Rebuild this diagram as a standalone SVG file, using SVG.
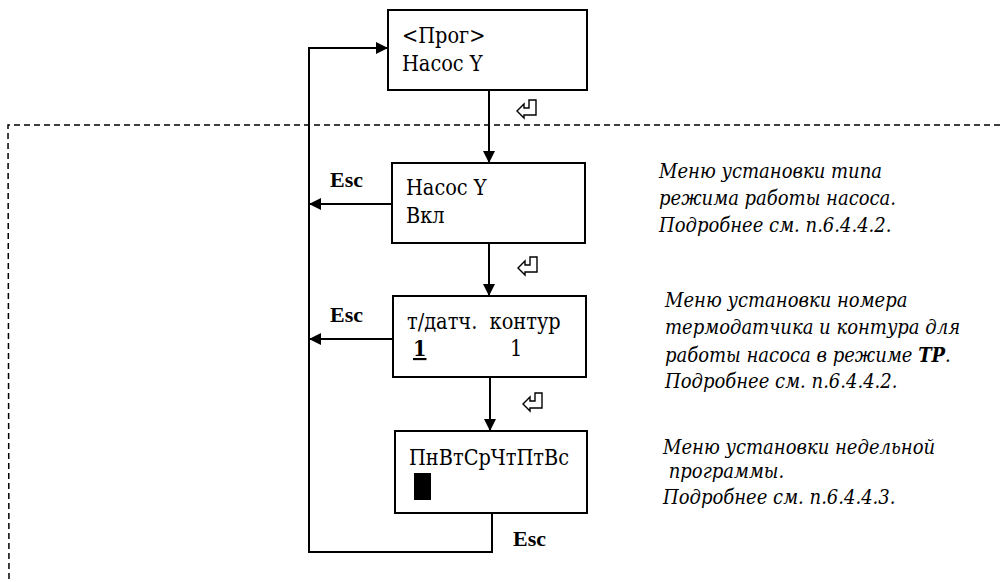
<svg xmlns="http://www.w3.org/2000/svg" width="1000" height="582" viewBox="0 0 1000 582">
<defs>
<marker id="ah" viewBox="0 0 12 12" refX="12" refY="6" markerWidth="12" markerHeight="12" markerUnits="userSpaceOnUse" orient="auto">
<path d="M0,0 L12,6 L0,12 Z" fill="#000"/>
</marker>
<path id="enter" d="M0,13 L7,6 L7,10 L12,10 L12,2 L19,2 L19,17 L7,17 L7,20 Z" fill="#fff" stroke="#000" stroke-width="1.4" stroke-linejoin="miter"/>
</defs>
<style>
.box{fill:#fff;stroke:#000;stroke-width:2}
.t{font-family:"DejaVu Serif Condensed","Liberation Serif",serif;font-size:21.5px;fill:#000}
.esc{font-family:"Liberation Serif","Times New Roman",serif;font-size:22px;font-weight:bold;fill:#000}
.d{font-family:"DejaVu Serif Condensed","Liberation Serif",serif;font-size:20px;font-style:italic;fill:#000}
.ln{fill:none;stroke:#000;stroke-width:2}
.dash{fill:none;stroke:#000;stroke-width:1.5;stroke-dasharray:6,4}
</style>
<rect width="1000" height="582" fill="#fff"/>
<g id="frame">
<path class="dash" d="M1000,125 L8,125 L9,582"/>
</g>
<g id="connectors">
<path class="ln" d="M489,90 L489,163" marker-end="url(#ah)"/>
<path class="ln" d="M489,243 L489,296" marker-end="url(#ah)"/>
<path class="ln" d="M490,377 L490,431" marker-end="url(#ah)"/>
<path class="ln" d="M392,204 L309,204" marker-end="url(#ah)"/>
<path class="ln" d="M393,339 L309,339" marker-end="url(#ah)"/>
<path class="ln" d="M492,513 L492,552 L309,552 L309,48 L388,48" marker-end="url(#ah)"/>
<use href="#enter" x="517" y="98"/>
<use href="#enter" x="518" y="255"/>
<use href="#enter" x="523" y="391"/>
<text class="esc" x="330" y="187">Esc</text>
<text class="esc" x="330" y="322">Esc</text>
<text class="esc" x="513" y="546">Esc</text>
</g>
<g id="node-prog">
<rect class="box" x="388" y="10" width="199" height="80"/>
<text class="t" x="402" y="43">&lt;Прог&gt;</text>
<text class="t" x="402" y="71">Насос Y</text>
</g>
<g id="node-mode">
<rect class="box" x="392" y="163" width="193" height="80"/>
<text class="t" x="406" y="195">Насос Y</text>
<text class="t" x="406" y="223">Вкл</text>
</g>
<g id="node-sensor">
<rect class="box" x="393" y="296" width="193" height="81"/>
<text class="t" x="407" y="329" xml:space="preserve">т/датч.  контур</text>
<text class="t" x="413" y="356" font-weight="bold" text-decoration="underline">1</text>
<text class="t" x="510" y="356">1</text>
</g>
<g id="node-week">
<rect class="box" x="395" y="431" width="192" height="82"/>
<text class="t" x="409" y="465">ПнВтСрЧтПтВс</text>
<rect x="414" y="473" width="17" height="27" fill="#000"/>
</g>
<g id="desc-1">
<text class="d" x="659" y="178">Меню установки типа</text>
<text class="d" x="659" y="205">режима работы насоса.</text>
<text class="d" x="659" y="232">Подробнее см. п.6.4.4.2.</text>
</g>
<g id="desc-2">
<text class="d" x="665" y="307">Меню установки номера</text>
<text class="d" x="665" y="334">термодатчика и контура для</text>
<text class="d" x="665" y="362">работы насоса в режиме <tspan font-weight="bold">ТР</tspan>.</text>
<text class="d" x="665" y="388">Подробнее см. п.6.4.4.2.</text>
</g>
<g id="desc-3">
<text class="d" x="663" y="454">Меню установки недельной</text>
<text class="d" x="663" y="478" xml:space="preserve"> программы.</text>
<text class="d" x="663" y="504">Подробнее см. п.6.4.4.3.</text>
</g>
</svg>
